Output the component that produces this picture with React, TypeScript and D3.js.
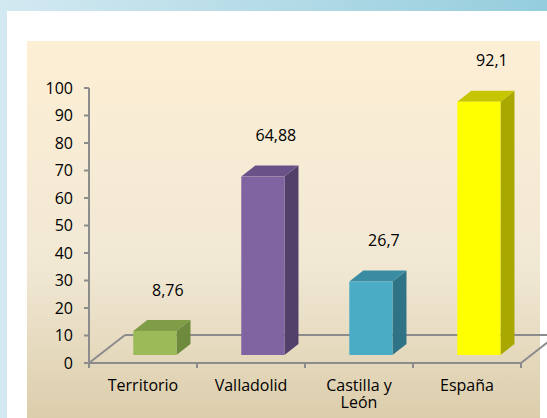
import React from 'react'
import * as d3 from 'd3'

const categories = ['Territorio', 'Valladolid', 'Castilla y León', 'España']
const values = [8.76, 64.88, 26.7, 92.1]
const valueLabels = ['8,76', '64,88', '26,7', '92,1']
const yTicks = [0, 10, 20, 30, 40, 50, 60, 70, 80, 90, 100]
const barColors = [
  { front: '#9BBB59', side: '#6E8A3C', top: '#7F9C47' },
  { front: '#8064A2', side: '#523F6A', top: '#6A5289' },
  { front: '#4BACC6', side: '#2F7387', top: '#3A8CA3' },
  { front: '#FFFF00', side: '#A8A800', top: '#C6C600' },
]

const W = 547
const H = 418
const font = '"Open Sans", sans-serif'

export default function App() {
  const y = d3.scaleLinear().domain([0, 100]).range([363, 88])
  const x = d3.scaleBand().domain(categories).range([89, 521]).padding(0)
  const bw = x.bandwidth()

  // floor depth and bar depth
  const fdx = 36, fdy = -28
  const bdx = 14, bdy = -11
  const sink = 8 // bars sit a little behind the front edge
  const barW = bw * 0.4
  const barOff = bw * 0.41

  return (
    <svg width={W} height={H} style={{ position: 'absolute', left: 0, top: 0 }}>
      <defs>
        <linearGradient id="outer" x1="0" y1="0" x2="1" y2="0">
          <stop offset="0" stopColor="#D3E9F1" />
          <stop offset="1" stopColor="#95CDDD" />
        </linearGradient>
        <linearGradient id="plot" x1="0" y1="0" x2="0" y2="1">
          <stop offset="0" stopColor="#FDEFD5" />
          <stop offset="0.6" stopColor="#F1E8D4" />
          <stop offset="1" stopColor="#DCCEAC" />
        </linearGradient>
      </defs>
      <rect x={0} y={0} width={W} height={H} fill="url(#outer)" />
      <rect x={7} y={11} width={W - 7} height={H - 11} fill="#FFFFFF" />
      <rect x={27} y={41} width={513} height={H - 41} fill="url(#plot)" />

      {/* floor */}
      <g stroke="#8C8C8C" strokeWidth={2} fill="none">
        <line x1={x.range()[0]} y1={y(0)} x2={x.range()[1]} y2={y(0)} />
        <line x1={x.range()[0]} y1={y(0)} x2={x.range()[0] + fdx} y2={y(0) + fdy} />
        <line x1={x.range()[1]} y1={y(0)} x2={x.range()[1] + fdx} y2={y(0) + fdy} />
        <line x1={x.range()[0] + fdx} y1={y(0) + fdy} x2={x.range()[1] + fdx} y2={y(0) + fdy} />
      </g>

      {/* bars */}
      {categories.map((c, i) => {
        const x0 = (x(c) as number) + barOff
        const yb = y(0) - sink
        const yt = y(values[i]) - sink
        const col = barColors[i]
        return (
          <g key={c}>
            <polygon
              points={`${x0 + barW},${yb} ${x0 + barW + bdx},${yb + bdy} ${x0 + barW + bdx},${yt + bdy} ${x0 + barW},${yt}`}
              fill={col.side}
            />
            <polygon
              points={`${x0},${yt} ${x0 + bdx},${yt + bdy} ${x0 + barW + bdx},${yt + bdy} ${x0 + barW},${yt}`}
              fill={col.top}
            />
            <rect x={x0} y={yt} width={barW} height={yb - yt} fill={col.front} />
            <text
              x={x0 + barW / 2 + 13}
              y={yt - 41}
              dy="0.35em"
              textAnchor="middle"
              fontFamily={font}
              fontSize={16}
              fill="#000"
            >
              {valueLabels[i]}
            </text>
          </g>
        )
      })}

      {/* y axis */}
      <line x1={89} y1={y(100)} x2={89} y2={y(0)} stroke="#8C8C8C" strokeWidth={2} />
      {yTicks.map(t => (
        <g key={t} transform={`translate(89,${y(t)})`}>
          <line x1={-5} x2={0} stroke="#8C8C8C" strokeWidth={2} />
          <text x={-16} dy="0.35em" textAnchor="end" fontFamily={font} fontSize={16} fill="#000">
            {t}
          </text>
        </g>
      ))}

      {/* x axis ticks and labels */}
      {[...categories.map(c => x(c) as number), x.range()[1]].map((v, i) => (
        <line key={i} x1={v} x2={v} y1={y(0)} y2={y(0) + 5} stroke="#8C8C8C" strokeWidth={2} />
      ))}
      {categories.map(c => {
        const words = c === 'Castilla y León' ? ['Castilla y', 'León'] : [c]
        return (
          <text
            key={c}
            x={(x(c) as number) + bw / 2}
            y={391}
            textAnchor="middle"
            fontFamily={font}
            fontSize={16}
            fill="#000"
          >
            {words.map((w, j) => (
              <tspan key={j} x={(x(c) as number) + bw / 2} dy={j === 0 ? 0 : 17}>
                {w}
              </tspan>
            ))}
          </text>
        )
      })}
    </svg>
  )
}
